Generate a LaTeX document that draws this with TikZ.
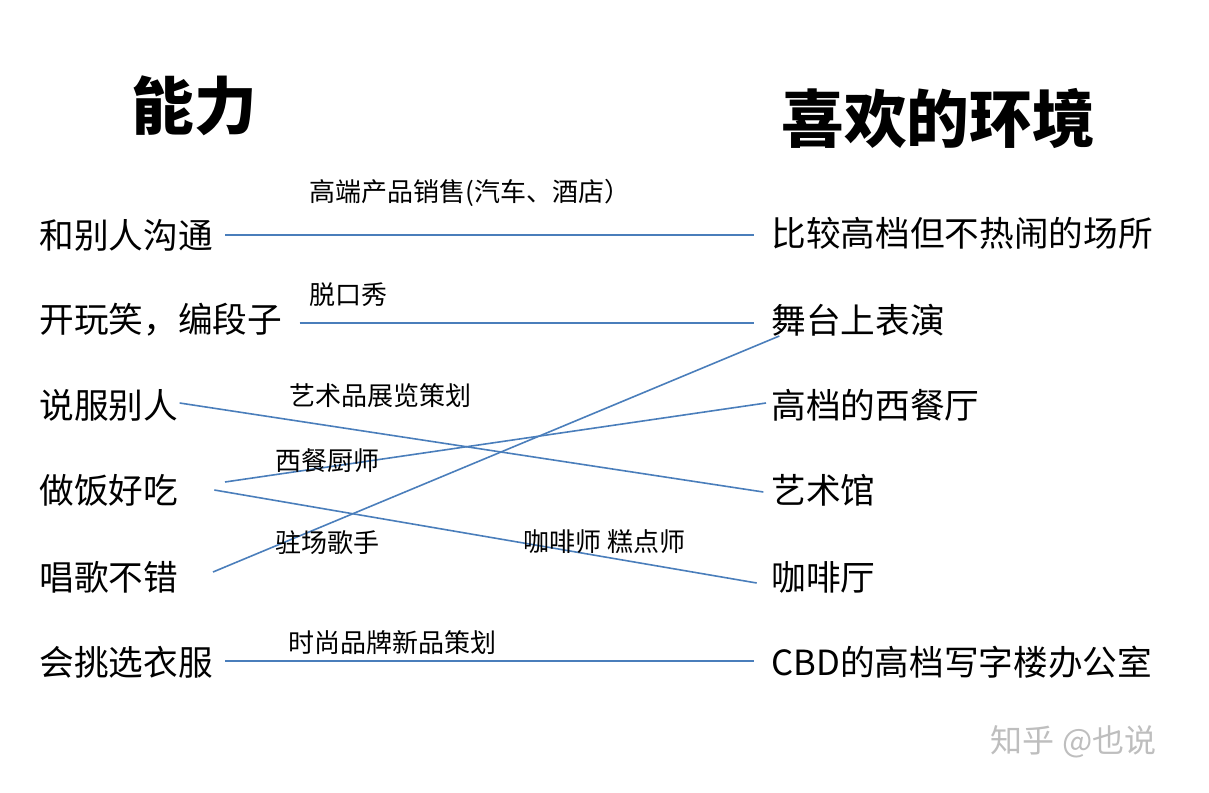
\documentclass[tikz,border=0pt]{standalone}
\usepackage{fontspec}
\newfontfamily\cjk{Noto Sans CJK SC}
\tikzset{every picture/.style={line width=0.75pt}}
\tikzset{
  item/.style={font=\cjk\fontsize{26}{30}\selectfont, inner sep=0.75pt},
  tag/.style={font=\cjk\fontsize{19.5}{23}\selectfont, inner sep=0.75pt, anchor=west},
  head/.style={font=\cjk\bfseries\fontsize{47}{54}\selectfont, inner sep=0.75pt, anchor=west},
  link/.style={draw={rgb,255:red,74;green,126;blue,187}, line width=1.2pt}
}
\begin{document}
\begin{tikzpicture}[x=0.75pt,y=0.75pt,yscale=-1,xscale=1]
\useasboundingbox (0,0) rectangle (1209,792);

% Titles
\node[head] (hl) at (130,106) {能力};
\node[head] (hr) at (780,118) {喜欢的环境};

% Left column
\node[item, anchor=west] (l1) at (38,235) {和别人沟通};
\node[item, anchor=west] (l2) at (38,320) {开玩笑，编段子};
\node[item, anchor=west] (l3) at (38,405) {说服别人};
\node[item, anchor=west] (l4) at (38,490) {做饭好吃};
\node[item, anchor=west] (l5) at (38,577) {唱歌不错};
\node[item, anchor=west] (l6) at (38,662) {会挑选衣服};

% Right column
\node[item, anchor=west] (r1) at (770,233) {比较高档但不热闹的场所};
\node[item, anchor=west] (r2) at (770,320) {舞台上表演};
\node[item, anchor=west] (r3) at (770,405) {高档的西餐厅};
\node[item, anchor=west] (r4) at (770,490) {艺术馆};
\node[item, anchor=west] (r5) at (770,577) {咖啡厅};
\node[item, anchor=west] (r6) at (770,662) {CBD的高档写字楼办公室};

% Links
\draw[link] ([xshift=8pt]l1.east |- 0,235) -- ([xshift=-12pt]r1.west |- 0,235);
\draw[link] ([xshift=12pt]l2.east |- 0,323) -- ([xshift=-12pt]r2.west |- 0,323);
\draw[link] (l3.east |- 0,403) -- ([xshift=-5pt]r4.west |- 0,492);
\draw[link] ([xshift=34pt]l4.east |- 0,482) -- ([xshift=-3pt]r3.west |- 0,403);
\draw[link] ([xshift=26pt]l4.east |- 0,490) -- ([xshift=-10pt]r5.west |- 0,583);
\draw[link] ([xshift=25pt]l5.east |- 0,572) -- ([xshift=7pt]r2.west |- 0,336);
\draw[link] ([xshift=8pt]l6.east |- 0,661) -- ([xshift=-12pt]r6.west |- 0,661);

% Tags
\node[tag] (t1) at (308,193) {高端产品销售(汽车、酒店）};
\node[tag] (t2) at (308,295) {脱口秀};
\node[tag] (t3) at (288,396) {艺术品展览策划};
\node[tag] (t4) at (274,461) {西餐厨师};
\node[tag] (t5) at (274,543) {驻场歌手};
\node[tag] (t6) at (522,542) {咖啡师 糕点师};
\node[tag] (t7) at (287,643) {时尚品牌新品策划};

% Watermark
\node[font=\cjk\fontsize{24}{28}\selectfont, text={rgb,255:red,190;green,190;blue,190}, anchor=west] (wm) at (986,742) {知乎 @也说};
\end{tikzpicture}
\end{document}
